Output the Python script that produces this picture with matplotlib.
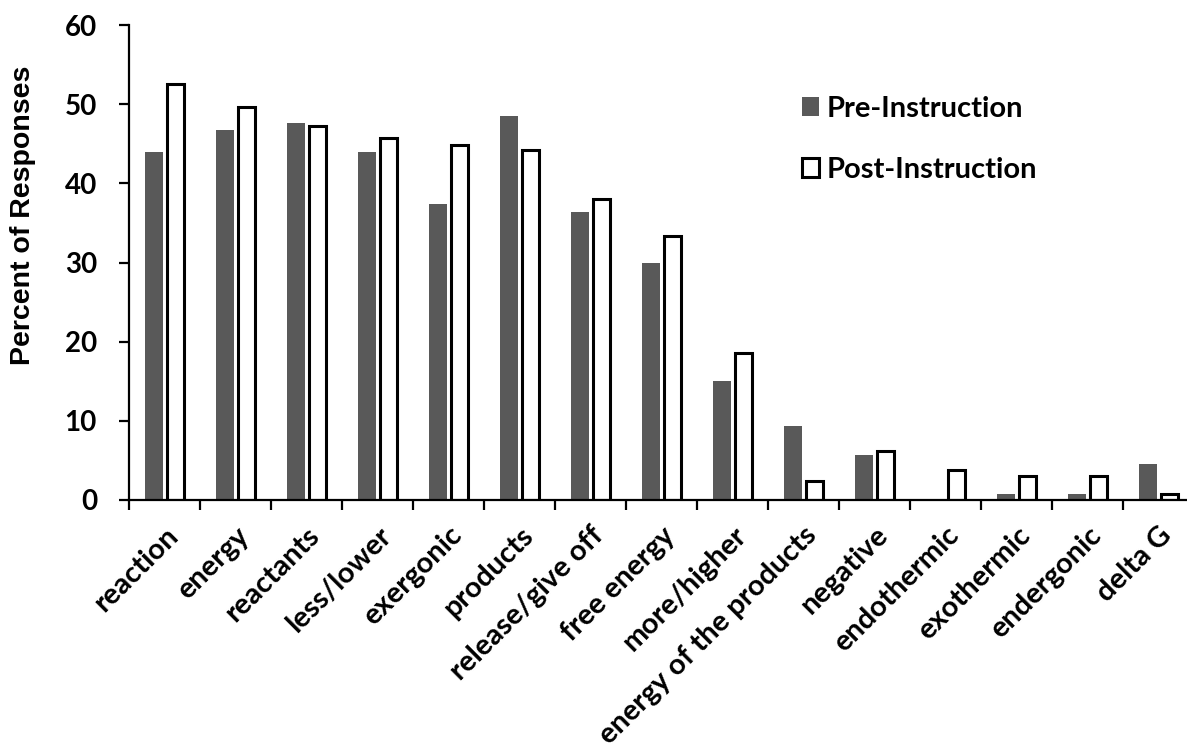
import numpy as np
import matplotlib.pyplot as plt

# categories and percent of responses
categories = ['reaction', 'energy', 'reactants', 'less/lower', 'exergonic',
              'products', 'release/give off', 'free energy', 'more/higher',
              'energy of the products', 'negative', 'endothermic', 'exothermic',
              'endergonic', 'delta G']
pre = [43.9, 46.7, 47.6, 43.9, 37.4, 48.5, 36.4, 29.9, 15.0, 9.3, 5.7, 0.0, 0.7, 0.7, 4.5]
post = [52.6, 49.6, 47.2, 45.7, 44.9, 44.2, 38.0, 33.3, 18.6, 2.4, 6.2, 3.8, 3.0, 3.0, 0.7]

fig = plt.figure(figsize=(11.87, 7.51), dpi=100)
ax = fig.add_axes([129 / 1187, 1 - 500 / 751, 1 - 129 / 1187, (500 - 25) / 751])

x = np.arange(len(categories))
w = 0.25
ax.bar(x - 0.15, pre, w, color='#595959', label='Pre-Instruction')
ax.bar(x + 0.155, post, w, color='white', edgecolor='black', linewidth=2.2,
       label='Post-Instruction')

ax.set_xlim(-0.5, 14.4)
ax.set_ylim(0, 60)
ax.set_yticks(range(0, 61, 10))

for s in ['top', 'right']:
    ax.spines[s].set_visible(False)
for s in ['left', 'bottom']:
    ax.spines[s].set_linewidth(1.6)
    ax.spines[s].set_zorder(5)

ax.tick_params(axis='y', length=7, width=1.6, pad=16)
ax.set_yticklabels([str(v) for v in range(0, 61, 10)],
                   fontsize=20, fontweight='bold', family='Lato')

# labels at the centres, tick marks between categories
ax.set_xticks(x)
ax.set_xticklabels(categories, rotation=45, ha='right', rotation_mode='anchor',
                   fontsize=21, fontweight='bold', family='Lato')
ax.tick_params(axis='x', which='major', length=0, pad=16)
ax.set_xticks(np.arange(len(categories)) - 0.5, minor=True)
ax.tick_params(axis='x', which='minor', length=7, width=1.6)

ax.set_ylabel('Percent of Responses', fontsize=20.5, fontweight='bold',
              family='Liberation Sans')
ax.yaxis.set_label_coords(36 / 1187, 1 - 215 / 751, transform=fig.transFigure)

ax.legend(loc='upper left', bbox_to_anchor=(790 / 1187, 1 - 84 / 751),
          bbox_transform=fig.transFigure, frameon=False,
          prop={'family': 'Lato', 'weight': 'bold', 'size': 21},
          handlelength=0.6, handleheight=0.6, handletextpad=0.25,
          labelspacing=1.2, borderaxespad=0)

plt.savefig('out.png', dpi=100)
